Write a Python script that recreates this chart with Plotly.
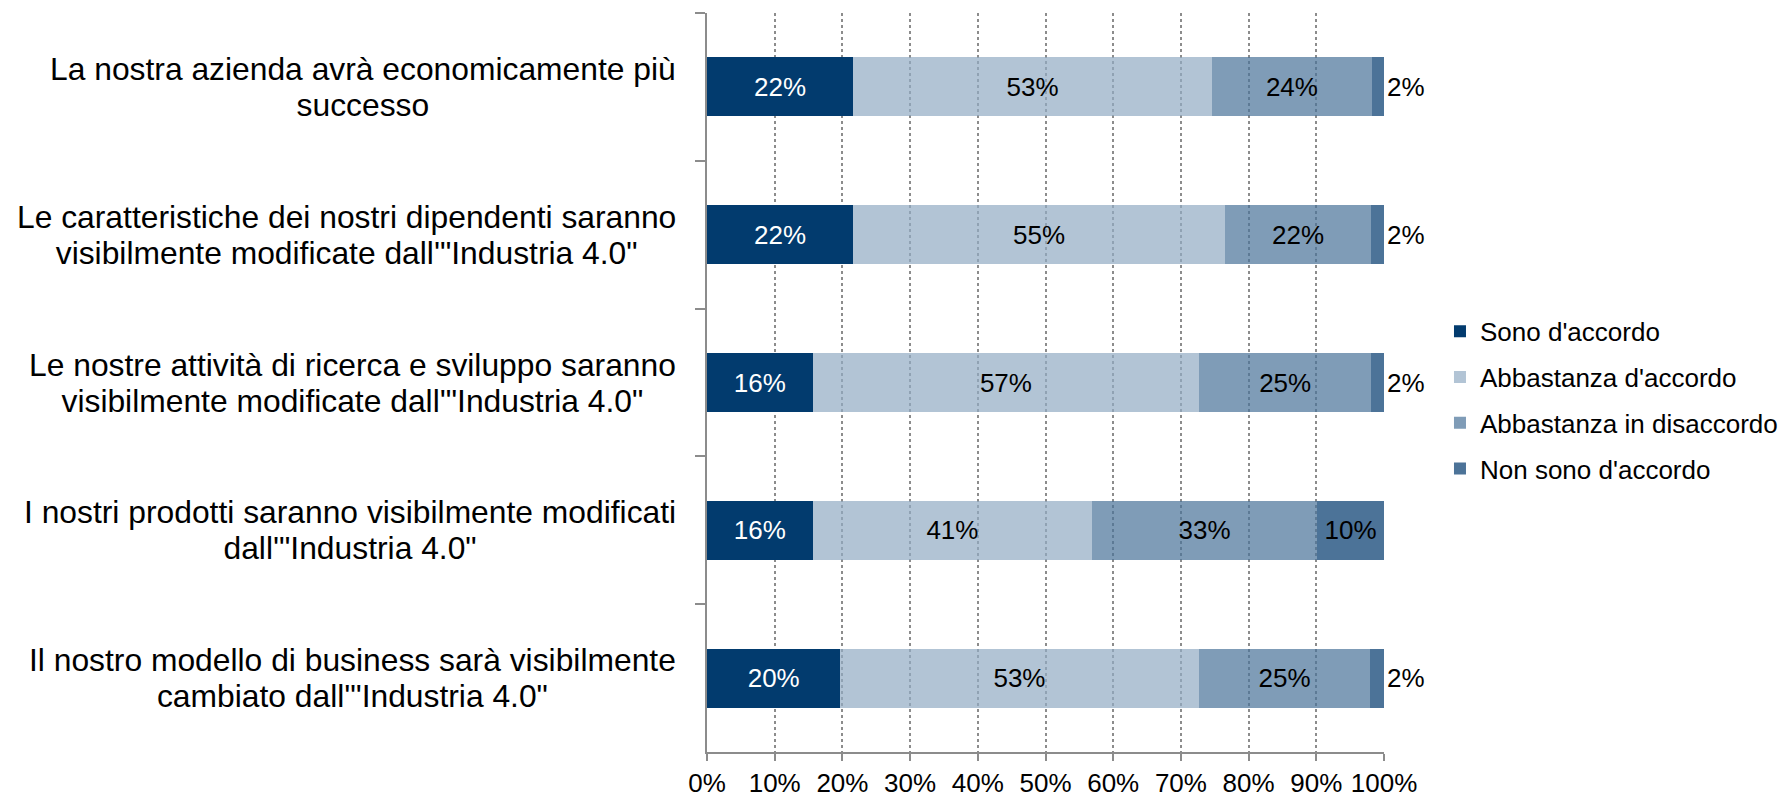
import plotly.graph_objects as go

categories = [
    "La nostra azienda avrà economicamente più<br>successo",
    "Le caratteristiche dei nostri dipendenti saranno<br>visibilmente modificate dall'\"Industria 4.0\"",
    "Le nostre attività di ricerca e sviluppo saranno<br>visibilmente modificate dall'\"Industria 4.0\"",
    "I nostri prodotti saranno visibilmente modificati<br>dall'\"Industria 4.0\"",
    "Il nostro modello di business sarà visibilmente<br>cambiato dall'\"Industria 4.0\"",
]
series_names = ["Sono d'accordo", "Abbastanza d'accordo", "Abbastanza in disaccordo", "Non sono d'accordo"]
sono_accordo = [21.6, 21.6, 15.6, 15.6, 19.7]
abbastanza_accordo = [53.0, 54.9, 57.1, 41.3, 52.9]
abbastanza_disaccordo = [23.6, 21.6, 25.4, 33.2, 25.4]
non_accordo = [1.8, 1.9, 1.9, 9.9, 2.0]
x_ticks = [0, 10, 20, 30, 40, 50, 60, 70, 80, 90, 100]
x_tick_labels = ["0%", "10%", "20%", "30%", "40%", "50%", "60%", "70%", "80%", "90%", "100%"]

colors = ["#023B6E", "rgba(146,171,195,0.7)", "rgba(72,114,152,0.7)", "rgba(0,56,108,0.7)"]
text_colors = ["white", "black", "black", "black"]
FONT = "Arial, 'Liberation Sans', sans-serif"

fig = go.Figure()
all_series = [sono_accordo, abbastanza_accordo, abbastanza_disaccordo, non_accordo]
for i, (name, vals) in enumerate(zip(series_names, all_series)):
    if i == 3:
        tp = ["outside" if v < 5 else "inside" for v in vals]
    else:
        tp = "inside"
    fig.add_trace(go.Bar(
        y=categories, x=vals, name=name, orientation="h",
        marker=dict(color=colors[i], line=dict(width=0)),
        texttemplate="%{x:.0f}%", textposition=tp,
        insidetextanchor="middle", constraintext="none",
        textfont=dict(family=FONT, size=26, color=text_colors[i]),
        outsidetextfont=dict(family=FONT, size=26, color="black"),
        insidetextfont=dict(family=FONT, size=26, color=text_colors[i]),
        cliponaxis=False, legendgroup=f"g{i}",
    ))

for cat in categories:
    lines = cat.split("<br>")
    txt = "<br>".join(f'<span style="font-size:31.8px">{ln}</span>' for ln in lines)
    fig.add_annotation(
        x=-0.043, xref="paper", y=cat, yref="y", text=txt,
        xanchor="right", yanchor="middle", align="center", showarrow=False,
        font=dict(family=FONT, size=28, color="black"),
    )

fig.update_layout(
    width=1780, height=784,
    margin=dict(l=699, r=404, t=5, b=40, autoexpand=False),
    barmode="stack", bargap=0.6,
    plot_bgcolor="white", paper_bgcolor="white",
    font=dict(family=FONT, size=26, color="black"),
    legend=dict(
        x=1.0827, xanchor="left", y=0.476, yanchor="middle",
        traceorder="grouped", tracegroupgap=9,
        font=dict(family=FONT, size=26, color="black"),
        bgcolor="rgba(0,0,0,0)",
    ),
    showlegend=True,
)
fig.update_xaxes(
    range=[0, 100], tickvals=x_ticks, ticktext=x_tick_labels,
    showgrid=True, gridcolor="#8c8c8c", griddash="dot", gridwidth=1.5,
    showline=True, linecolor="#8c8c8c", linewidth=1.5,
    ticks="outside", ticklen=7, tickcolor="#8c8c8c", tickwidth=1.5,
    zeroline=False, automargin=False, tickfont=dict(family=FONT, size=26, color="black"),
)
fig.update_yaxes(
    autorange="reversed", showticklabels=False, automargin=False,
    showline=True, linecolor="#8c8c8c", linewidth=1.5,
    ticks="outside", tickson="boundaries", ticklen=10, tickcolor="#8c8c8c", tickwidth=1.5,
    showgrid=False, zeroline=False,
)

fig.write_html("out.html")
